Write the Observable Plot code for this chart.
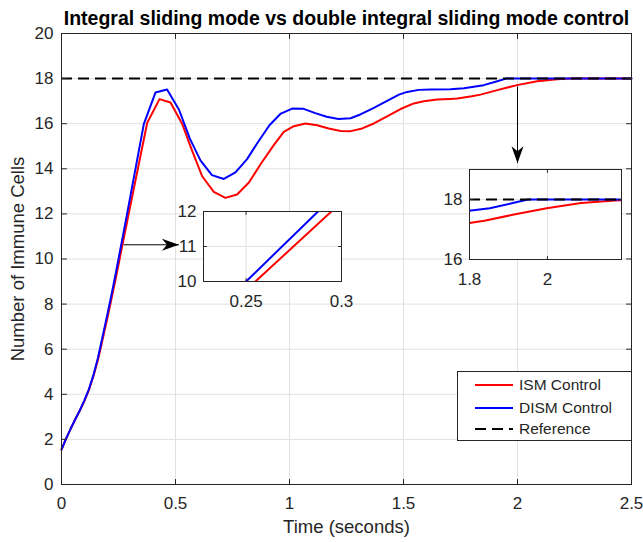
<!DOCTYPE html>
<html><head><meta charset="utf-8">
<script src="https://cdn.jsdelivr.net/npm/d3@7"></script>
<script src="https://cdn.jsdelivr.net/npm/@observablehq/plot@0.6"></script>
<style>
body{margin:0;background:#fff;}
#wrap{position:relative;width:643px;height:542px;overflow:hidden;font-family:"Liberation Sans",Arial,Helvetica,sans-serif;}
.layer{position:absolute;}
</style></head><body><div id="wrap"></div>
<script>
// ---------- data ----------
const timeISM   = [0, 0.02, 0.04, 0.06, 0.08, 0.10, 0.12, 0.14, 0.16, 0.18, 0.20, 0.22, 0.24, 0.2549, 0.2947, 0.376, 0.43, 0.478, 0.529, 0.571, 0.617, 0.668, 0.719, 0.77, 0.822, 0.873, 0.931, 0.975, 1.019, 1.07, 1.121, 1.172, 1.224, 1.268, 1.319, 1.37, 1.428, 1.487, 1.545, 1.589, 1.648, 1.706, 1.736, 1.8, 1.838, 1.911, 1.998, 2.086, 2.174, 2.232, 2.5];
const valuesISM = [1.55, 2.03, 2.47, 2.88, 3.27, 3.70, 4.19, 4.8, 5.53, 6.42, 7.33, 8.27, 9.24, 10.0, 12.0, 16.04, 17.09, 16.94, 16.0, 14.85, 13.67, 12.98, 12.71, 12.86, 13.39, 14.2, 15.05, 15.64, 15.89, 16.01, 15.93, 15.79, 15.68, 15.67, 15.79, 16.01, 16.33, 16.65, 16.9, 17.0, 17.07, 17.1, 17.12, 17.22, 17.29, 17.49, 17.71, 17.88, 17.97, 18.0, 18.0];
const timeDISM   = [0, 0.02, 0.04, 0.06, 0.08, 0.10, 0.12, 0.14, 0.16, 0.18, 0.20, 0.22, 0.24, 0.25, 0.2877, 0.361, 0.412, 0.463, 0.515, 0.563, 0.61, 0.66, 0.712, 0.763, 0.814, 0.862, 0.912, 0.962, 1.012, 1.062, 1.113, 1.163, 1.215, 1.268, 1.311, 1.37, 1.428, 1.48, 1.516, 1.567, 1.62, 1.706, 1.765, 1.852, 1.911, 1.95, 2.5];
const valuesDISM = [1.55, 2.03, 2.47, 2.88, 3.28, 3.72, 4.22, 4.85, 5.62, 6.55, 7.49, 8.45, 9.47, 10.0, 12.0, 15.98, 17.38, 17.52, 16.63, 15.34, 14.36, 13.72, 13.55, 13.84, 14.43, 15.19, 15.93, 16.45, 16.67, 16.66, 16.47, 16.31, 16.21, 16.24, 16.41, 16.7, 17.01, 17.29, 17.41, 17.5, 17.52, 17.53, 17.57, 17.71, 17.88, 18.0, 18.0];
const referenceValue = 18;

const seriesNames  = ["ISM Control", "DISM Control", "Reference"];
const seriesColors = ["#ff0000", "#0000ff", "#000000"];

const xTicks = [0, 0.5, 1, 1.5, 2, 2.5];
const yTicks = [0, 2, 4, 6, 8, 10, 12, 14, 16, 18, 20];
const xDomain = [0, 2.5];
const yDomain = [0, 20];

const inset1XDomain = [0.2277, 0.3];
const inset1YDomain = [10, 12];
const inset1XTicks = [0.25, 0.3];
const inset1YTicks = [10, 11, 12];

const inset2XDomain = [1.8, 2.19];
const inset2YDomain = [16, 19];
const inset2XTicks = [1.8, 2];
const inset2YTicks = [16, 18];

const arrowStarts = [[0.273, 10.63], [2.0, 17.65]];
const arrowEnds   = [[0.515, 10.63], [2.0, 14.25]];
const arrowDirs   = ["right", "down"];

const titleText = "Integral sliding mode vs double integral sliding mode control";
const xLabelText = "Time (seconds)";
const yLabelText = "Number of Immune Cells";

// ---------- helpers ----------
const ism  = timeISM.map((t, i) => ({t, v: valuesISM[i]}));
const dism = timeDISM.map((t, i) => ({t, v: valuesDISM[i]}));
const arrows = arrowStarts.map((s, i) => ({x1: s[0], y1: s[1], x2: arrowEnds[i][0], y2: arrowEnds[i][1], dir: arrowDirs[i]}));

const frameColor = "#262626";
const gridColor = "#e1e1e1";
const fontFamily = '"Liberation Sans", Arial, Helvetica, sans-serif';
const tickShape = {draw(context, l) { context.moveTo(0, 0); context.lineTo(0, -l); }};
const headRight = {draw(c) { c.moveTo(0, 0); c.lineTo(-17, -6); c.lineTo(-12, 0); c.lineTo(-17, 6); c.closePath(); }};
const headDown  = {draw(c) { c.moveTo(0, 0); c.lineTo(-6, -17); c.lineTo(0, -12); c.lineTo(6, -17); c.closePath(); }};

function innerTicks(xt, yt, xd, yd, len) {
  const common = {length: len, anchor: "start", shape: tickShape, stroke: frameColor, strokeWidth: 1};
  return [
    Plot.vector(xt, {...common, x: d => d, y: () => yd[0], rotate: 0}),
    Plot.vector(xt, {...common, x: d => d, y: () => yd[1], rotate: 180}),
    Plot.vector(yt, {...common, y: d => d, x: () => xd[0], rotate: 90}),
    Plot.vector(yt, {...common, y: d => d, x: () => xd[1], rotate: -90})
  ];
}

function seriesMarks(yd, clip) {
  const refShown = referenceValue >= yd[0] && referenceValue <= yd[1] ? [referenceValue] : [];
  return [
    Plot.line(ism,  {x: "t", y: "v", stroke: seriesColors[0], strokeWidth: 2, clip}),
    Plot.line(dism, {x: "t", y: "v", stroke: seriesColors[1], strokeWidth: 2, clip}),
    Plot.ruleY(refShown, {stroke: seriesColors[2], strokeWidth: 2, strokeDasharray: "11,6", clip})
  ];
}

const wrap = document.getElementById("wrap");

// ---------- main chart ----------
const main = Plot.plot({
  width: 643, height: 542,
  marginLeft: 61, marginRight: 12, marginTop: 33, marginBottom: 58,
  x: {domain: xDomain, axis: null},
  y: {domain: yDomain, axis: null},
  style: {fontFamily, background: "white", color: frameColor},
  marks: [
    Plot.gridX(xTicks, {stroke: gridColor, strokeOpacity: 1}),
    Plot.gridY(yTicks, {stroke: gridColor, strokeOpacity: 1}),
    ...seriesMarks(yDomain, false),
    Plot.frame({stroke: frameColor, strokeWidth: 1}),
    ...innerTicks(xTicks, yTicks, xDomain, yDomain, 5),
    Plot.axisX(xTicks, {tickSize: 0, tickPadding: 12, fontSize: 17, label: null, tickFormat: d => `${d}`, fill: frameColor}),
    Plot.axisY(yTicks, {tickSize: 0, tickPadding: 8, fontSize: 17, label: null, tickFormat: d => `${d}`, fill: frameColor}),
    Plot.link(arrows, {x1: "x1", y1: "y1", x2: "x2", y2: "y2", stroke: "black", strokeWidth: 1}),
    Plot.dot(arrows.filter(a => a.dir === "right"), {x: "x2", y: "y2", symbol: headRight, fill: "black", stroke: "none"}),
    Plot.dot(arrows.filter(a => a.dir === "down"), {x: "x2", y: "y2", symbol: headDown, fill: "black", stroke: "none"}),
    Plot.text([titleText], {frameAnchor: "top", lineAnchor: "middle", textAnchor: "middle", dy: -15, fontWeight: "bold", fontSize: 19.5, fill: "black"}),
    Plot.text([xLabelText], {frameAnchor: "bottom", lineAnchor: "middle", textAnchor: "middle", dy: 43, fontSize: 18.5, fill: frameColor}),
    Plot.text([yLabelText], {frameAnchor: "left", lineAnchor: "middle", textAnchor: "middle", dx: -43, rotate: -90, fontSize: 18.5, fill: frameColor})
  ]
});
main.classList.add("layer");
main.style.left = "0px"; main.style.top = "0px";
wrap.appendChild(main);

// ---------- insets ----------
function makeInset(xd, yd, xt, yt, left, top, w, h) {
  const mL = 46, mR = 6, mT = 6, mB = 34;
  const p = Plot.plot({
    width: w + mL + mR, height: h + mT + mB,
    marginLeft: mL, marginRight: mR, marginTop: mT, marginBottom: mB,
    x: {domain: xd, axis: null},
    y: {domain: yd, axis: null},
    style: {fontFamily, background: "transparent", color: frameColor, overflow: "visible"},
    marks: [
      Plot.frame({fill: "white", stroke: "none"}),
      Plot.gridX(xt, {stroke: gridColor, strokeOpacity: 1}),
      Plot.gridY(yt, {stroke: gridColor, strokeOpacity: 1}),
      ...seriesMarks(yd, true),
      Plot.frame({stroke: frameColor, strokeWidth: 1}),
      ...innerTicks(xt, yt, xd, yd, 3),
      Plot.axisX(xt, {tickSize: 0, tickPadding: 13, fontSize: 17, label: null, tickFormat: d => `${d}`, fill: frameColor}),
      Plot.axisY(yt, {tickSize: 0, tickPadding: 7, fontSize: 17, label: null, tickFormat: d => `${d}`, fill: frameColor})
    ]
  });
  p.classList.add("layer");
  p.style.left = (left - mL) + "px";
  p.style.top = (top - mT) + "px";
  wrap.appendChild(p);
}
makeInset(inset1XDomain, inset1YDomain, inset1XTicks, inset1YTicks, 203, 211, 138, 70);
makeInset(inset2XDomain, inset2YDomain, inset2XTicks, inset2YTicks, 469, 169, 152, 90);

// ---------- legend ----------
const leg = d3.create("svg").attr("width", 176).attr("height", 71)
  .attr("class", "layer").style("left", "457px").style("top", "371px").style("overflow", "visible");
leg.append("rect").attr("x", 0.5).attr("y", 0.5).attr("width", 174).attr("height", 69)
  .attr("fill", "white").attr("stroke", frameColor).attr("stroke-width", 1);
const rowsY = [14, 37, 58];
seriesNames.forEach((name, i) => {
  leg.append("line").attr("x1", 18).attr("x2", 56).attr("y1", rowsY[i]).attr("y2", rowsY[i])
    .attr("stroke", seriesColors[i]).attr("stroke-width", 2)
    .attr("stroke-dasharray", i === 2 ? "11,6" : null);
  leg.append("text").attr("x", 62).attr("y", rowsY[i]).attr("dy", "0.35em")
    .attr("font-family", fontFamily).attr("font-size", 15.5).attr("fill", frameColor).text(name);
});
wrap.appendChild(leg.node());
</script></body></html>
